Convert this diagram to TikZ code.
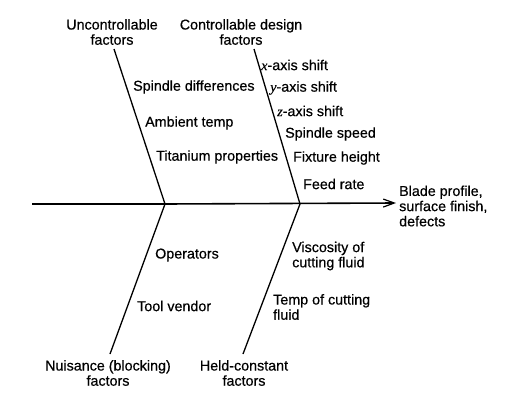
\documentclass[tikz,border=0pt]{standalone}
\usepackage{fontspec}
\setmainfont{Liberation Sans}[FakeBold=0.5]
\newfontfamily\varfont{Liberation Serif}[FakeBold=0.3]
\usetikzlibrary{arrows.meta}
\newcommand{\vr}[1]{{\varfont\itshape #1}}
\begin{document}
\begin{tikzpicture}[x=1pt,y=-1pt,
  lbl/.style={inner sep=0pt,font=\fontsize{14.3}{15.2}\selectfont},
  lblc/.style={lbl,align=center},
  lbll/.style={lbl,align=left,anchor=west},
  bone/.style={line width=1.3pt},
  spine/.style={line width=1.6pt}]
\useasboundingbox (0,0) rectangle (507,402);
% junctions and bone ends
\coordinate (s0) at (32,204);
\coordinate (j1) at (165,204);
\coordinate (j2) at (300,204);
\coordinate (tip) at (396,203);
\coordinate (ul) at (114,49);
\coordinate (ur) at (254,49);
\coordinate (ll) at (110,354);
\coordinate (lr) at (243,354);
% spine
\draw[line width=2.1pt] (s0) -- (j1);
\draw[spine,-{Straight Barb[length=11pt,width=8pt,line width=1.2pt]}] (j1) -- (tip);
% bones
\draw[bone] (ul) -- (j1);
\draw[bone] (ur) -- (j2);
\draw[bone] (ll) -- (j1);
\draw[bone] (lr) -- (j2);
% category labels
\node[lblc] (uc) at (112,32) {Uncontrollable\\factors};
\node[lblc] (cd) at (241,32) {Controllable design\\factors};
\node[lblc] (nb) at (108,373) {Nuisance (blocking)\\factors};
\node[lblc] (hc) at (244,373) {Held-constant\\factors};
\node[lbll] (out) at (399,206) {Blade profile,\\surface finish,\\defects};
% uncontrollable
\node[lbll] (sd) at (133,87) {Spindle differences};
\node[lbll] (at) at (145,123) {Ambient temp};
\node[lbll] (tp) at (156,157) {Titanium properties};
% controllable
\node[lbll] (xs) at (261,65) {\vr{x}-axis shift};
\node[lbll] (ys) at (270,88) {\vr{y}-axis shift};
\node[lbll] (zs) at (277,111) {\vr{z}-axis shift};
\node[lbll] (ss) at (285,134) {Spindle speed};
\node[lbll] (fh) at (293,158) {Fixture height};
\node[lbll] (fr) at (303,184) {Feed rate};
% nuisance
\node[lbll] (op) at (155,255) {Operators};
\node[lbll] (tv) at (137,306) {Tool vendor};
% held constant
\node[lbll] (vc) at (292,256) {Viscosity of\\cutting fluid};
\node[lbll] (tc) at (273,307) {Temp of cutting\\fluid};
\end{tikzpicture}
\end{document}
